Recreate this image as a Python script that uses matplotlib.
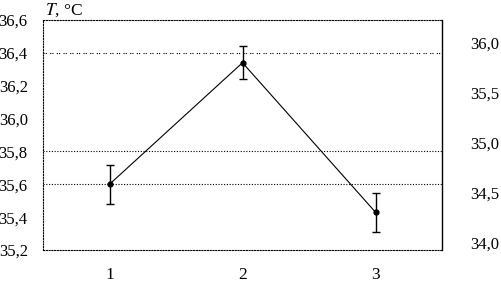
import matplotlib.pyplot as plt

plt.rcParams['font.family'] = ['Liberation Serif', 'DejaVu Serif']
plt.rcParams['mathtext.fontset'] = 'stix'

# data
groups = [1, 2, 3]
temp = [35.60, 36.34, 35.43]
err = [0.12, 0.10, 0.12]

left_ticks = [35.2, 35.4, 35.6, 35.8, 36.0, 36.2, 36.4, 36.6]
left_labels = ['35,2', '35,4', '35,6', '35,8', '36,0', '36,2', '36,4', '36,6']
right_ticks = [34.0, 34.5, 35.0, 35.5, 36.0]
right_labels = ['34,0', '34,5', '35,0', '35,5', '36,0']
grid_fine = [35.6, 35.8]
grid_coarse = [36.4]

fig = plt.figure(figsize=(5.01, 2.86), dpi=100)
ax = fig.add_axes([43 / 501, 36 / 286, 399 / 501, 230 / 286])

ax.set_xlim(0.5, 3.5)
ax.set_ylim(35.2, 36.6)

for y in grid_fine:
    ax.axhline(y, color='black', lw=0.8, ls=(0, (1, 1.5)), zorder=1)
for y in grid_coarse:
    ax.axhline(y, color='black', lw=0.8, ls=(0, (1, 1, 1, 3)), zorder=1)

ax.errorbar(groups, temp, yerr=err, color='black', lw=0.8, marker='o',
            ms=3.5, capsize=3, elinewidth=1.0, capthick=1.0, zorder=3)

for side in ['left', 'top', 'bottom']:
    ax.spines[side].set_linestyle((0, (1, 1.5)))
    ax.spines[side].set_linewidth(0.8)
ax.spines['right'].set_linewidth(1.0)

ax.set_yticks(left_ticks)
ax.set_yticklabels(left_labels)
ax.set_xticks(groups)
ax.set_xticklabels([str(g) for g in groups])
ax.tick_params(axis='y', length=0, pad=11, labelsize=12)
ax.tick_params(axis='x', length=0, pad=12, labelsize=12.5)

ax2 = ax.twinx()
ax2.set_ylim(33.93, 36.23)
ax2.set_yticks(right_ticks)
ax2.set_yticklabels(right_labels)
ax2.tick_params(axis='y', length=0, pad=20, labelsize=12)
for side in ['left', 'top', 'bottom', 'right']:
    ax2.spines[side].set_visible(False)

fig.text(45 / 501, 1 - 10 / 286, '$\\mathit{T}$, °C', fontsize=12.5, va='center', ha='left')

fig.savefig('out.png', dpi=100)
